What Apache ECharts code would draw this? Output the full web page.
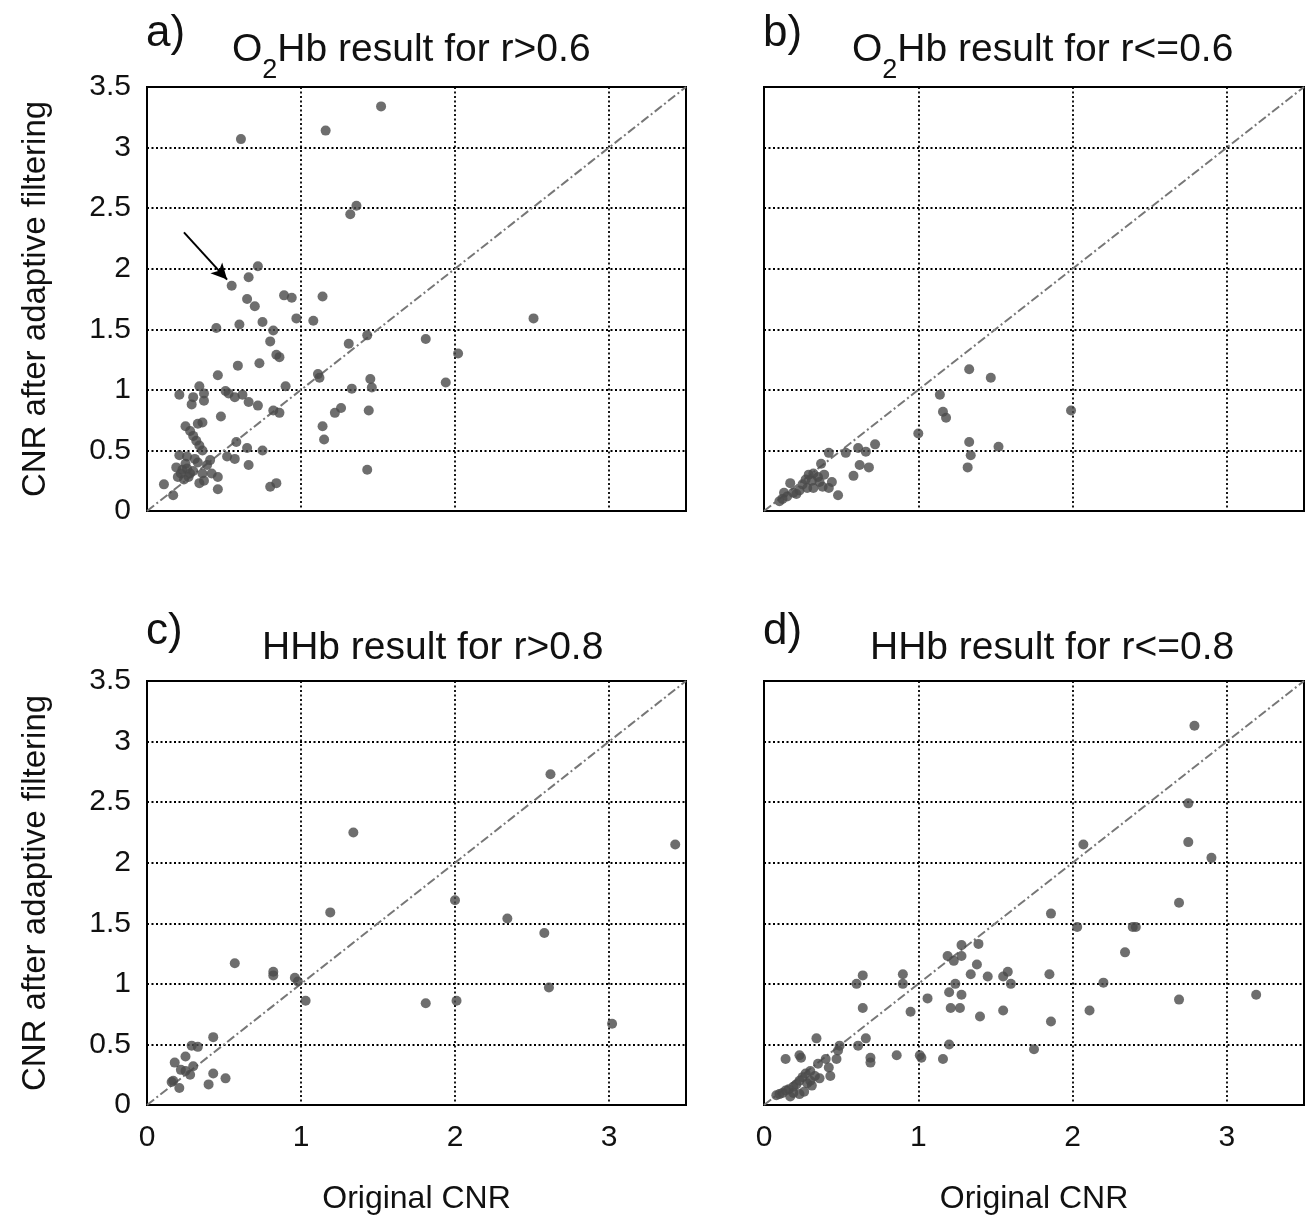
<!DOCTYPE html>
<html>
<head>
<meta charset="utf-8">
<script src="https://cdn.jsdelivr.net/npm/echarts@6/dist/echarts.min.js"></script>
<style>
  html, body { margin: 0; padding: 0; background: #fff; }
  #chart { width: 1315px; height: 1223px; }
</style>
</head>
<body>
<div id="chart"></div>
<script>
// axis ticks (both axes run 0..3.5)
const axisMax = 3.5;
const xInterval = 1;
const yInterval = 0.5;
const diagonal = [0, 3.5];

// a) O2Hb, r > 0.6
const aX = [1.52, 0.61, 1.16, 1.36, 1.32, 0.72, 0.66, 0.55, 0.65, 0.70, 0.89, 0.94, 1.14, 0.97, 1.08, 0.75, 0.60, 0.45, 0.82, 0.80,
  1.43, 1.31, 0.84, 0.86, 0.59, 0.73, 0.46, 1.11, 1.12, 0.34, 0.90, 1.45, 1.46, 1.33, 0.21, 0.30, 0.29, 0.37, 0.37, 0.51,
  0.53, 0.57, 0.62, 0.66, 0.72, 0.82, 0.86, 0.48, 1.22, 1.26, 1.44, 0.36, 0.33, 0.25, 0.28, 0.30, 0.32, 0.34, 0.36, 1.14,
  1.15, 0.58, 0.65, 0.75, 0.21, 0.26, 0.31, 0.41, 0.52, 0.57, 0.66, 1.43, 0.19, 0.23, 0.26, 0.28, 0.20, 0.24, 0.27, 0.30,
  0.22, 0.36, 0.37, 0.34, 0.46, 0.46, 0.11, 0.17, 0.80, 0.84, 0.42, 2.51, 1.81, 2.02, 1.94, 0.39, 0.33, 0.25];
const aY = [3.34, 3.07, 3.14, 2.52, 2.45, 2.02, 1.93, 1.86, 1.75, 1.69, 1.78, 1.76, 1.77, 1.59, 1.57, 1.56, 1.54, 1.51, 1.49, 1.40,
  1.45, 1.38, 1.29, 1.27, 1.20, 1.22, 1.12, 1.13, 1.10, 1.03, 1.03, 1.09, 1.02, 1.01, 0.96, 0.94, 0.88, 0.97, 0.91, 0.99,
  0.97, 0.94, 0.96, 0.90, 0.87, 0.83, 0.81, 0.78, 0.81, 0.85, 0.83, 0.73, 0.72, 0.70, 0.66, 0.62, 0.58, 0.54, 0.50, 0.70,
  0.59, 0.57, 0.52, 0.50, 0.46, 0.45, 0.43, 0.42, 0.45, 0.43, 0.38, 0.34, 0.36, 0.34, 0.35, 0.31, 0.28, 0.26, 0.28, 0.33,
  0.31, 0.31, 0.25, 0.23, 0.28, 0.18, 0.22, 0.13, 0.20, 0.23, 0.31, 1.59, 1.42, 1.30, 1.06, 0.38, 0.40, 0.39];
// arrow in panel a (tail, head)
const arrowA = [[0.24, 2.30], [0.52, 1.91]];

// b) O2Hb, r <= 0.6
const bX = [1.33, 1.47, 1.14, 1.16, 1.18, 1.00, 1.33, 1.52, 1.34, 1.32, 1.99, 0.72, 0.66, 0.61, 0.53, 0.42, 0.62, 0.68, 0.58, 0.37,
  0.29, 0.32, 0.35, 0.39, 0.44, 0.42, 0.48, 0.17, 0.13, 0.15, 0.19, 0.23, 0.28, 0.32, 0.36, 0.10, 0.12, 0.25, 0.27, 0.21,
  0.31, 0.38];
const bY = [1.17, 1.10, 0.96, 0.82, 0.77, 0.64, 0.57, 0.53, 0.46, 0.36, 0.83, 0.55, 0.49, 0.52, 0.48, 0.48, 0.38, 0.36, 0.29, 0.39,
  0.30, 0.31, 0.28, 0.30, 0.24, 0.19, 0.13, 0.23, 0.15, 0.12, 0.15, 0.17, 0.19, 0.19, 0.24, 0.08, 0.10, 0.22, 0.26, 0.14,
  0.25, 0.20];

// c) HHb, r > 0.8
const cX = [2.62, 1.34, 3.43, 2.00, 1.19, 2.34, 2.58, 0.57, 0.82, 0.82, 0.96, 0.98, 1.03, 2.61, 1.81, 2.01, 3.02, 0.43, 0.29, 0.33,
  0.25, 0.18, 0.22, 0.30, 0.28, 0.25, 0.43, 0.51, 0.40, 0.17, 0.16, 0.21];
const cY = [2.73, 2.25, 2.15, 1.69, 1.59, 1.54, 1.42, 1.17, 1.10, 1.07, 1.05, 1.02, 0.86, 0.97, 0.84, 0.86, 0.67, 0.56, 0.49, 0.48,
  0.40, 0.35, 0.29, 0.32, 0.25, 0.28, 0.26, 0.22, 0.17, 0.20, 0.19, 0.14];

// d) HHb, r <= 0.8
const dX = [2.79, 2.75, 2.75, 2.07, 2.90, 2.69, 1.86, 2.03, 2.39, 2.41, 2.34, 1.85, 2.20, 2.11, 1.86, 2.69, 3.19, 1.75, 0.64, 0.60,
  0.90, 0.90, 0.64, 0.95, 1.06, 1.19, 1.23, 1.28, 1.28, 1.39, 1.38, 1.34, 1.45, 1.58, 1.55, 1.60, 1.24, 1.20, 1.28, 1.21,
  1.27, 1.40, 1.55, 1.20, 1.02, 1.01, 1.16, 0.86, 0.69, 0.69, 0.66, 0.61, 0.49, 0.48, 0.47, 0.34, 0.23, 0.24, 0.14, 0.35,
  0.40, 0.42, 0.43, 0.36, 0.30, 0.27, 0.25, 0.23, 0.21, 0.19, 0.16, 0.14, 0.12, 0.10, 0.08, 0.31, 0.23, 0.19, 0.28, 0.33,
  0.26, 0.17, 0.30];
const dY = [3.13, 2.49, 2.17, 2.15, 2.04, 1.67, 1.58, 1.47, 1.47, 1.47, 1.26, 1.08, 1.01, 0.78, 0.69, 0.87, 0.91, 0.46, 1.07, 1.00,
  1.08, 1.00, 0.80, 0.77, 0.88, 1.23, 1.19, 1.32, 1.23, 1.33, 1.16, 1.08, 1.06, 1.10, 1.06, 1.00, 1.00, 0.93, 0.91, 0.80,
  0.80, 0.73, 0.78, 0.50, 0.39, 0.41, 0.38, 0.41, 0.39, 0.35, 0.55, 0.49, 0.49, 0.45, 0.38, 0.55, 0.41, 0.39, 0.38, 0.34,
  0.38, 0.31, 0.24, 0.22, 0.28, 0.26, 0.23, 0.20, 0.17, 0.15, 0.13, 0.12, 0.10, 0.09, 0.08, 0.16, 0.09, 0.10, 0.18, 0.24,
  0.11, 0.07, 0.20];

const panelLetters = ['a)', 'b)', 'c)', 'd)'];
const panelTitles = [
  '{n|O}{s|2}{n|Hb result for r>0.6}',
  '{n|O}{s|2}{n|Hb result for r<=0.6}',
  '{n|HHb result for r>0.8}',
  '{n|HHb result for r<=0.8}'
];
const yName = 'CNR after adaptive filtering';
const xName = 'Original CNR';

const FONT = 'Liberation Sans, Arial, sans-serif';
const dotColor = '#4a4a4a';

const grids = [
  {left: 147, top: 87, width: 539, height: 424},
  {left: 764, top: 87, width: 540, height: 424},
  {left: 147, top: 681, width: 539, height: 424},
  {left: 764, top: 681, width: 540, height: 424}
].map(g => Object.assign(g, {show: true, borderColor: '#000', borderWidth: 2, backgroundColor: '#fff'}));

const gridLine = {show: true, lineStyle: {color: '#000', width: 1.8, type: [2, 2.5]}};

const xAxes = [0, 1, 2, 3].map(i => ({
  type: 'value', gridIndex: i, min: 0, max: axisMax, interval: xInterval,
  axisLine: {show: false}, axisTick: {show: false},
  splitLine: gridLine,
  axisLabel: {show: i >= 2, showMaxLabel: false, color: '#111', fontSize: 30, fontFamily: FONT, margin: 18},
  name: i >= 2 ? xName : '', nameLocation: 'middle', nameGap: 78,
  nameTextStyle: {color: '#111', fontSize: 32, fontFamily: FONT}
}));

const yAxes = [0, 1, 2, 3].map(i => ({
  type: 'value', gridIndex: i, min: 0, max: axisMax, interval: yInterval,
  axisLine: {show: false}, axisTick: {show: false},
  splitLine: gridLine,
  axisLabel: {show: i % 2 === 0, color: '#111', fontSize: 30, fontFamily: FONT, margin: 16},
  name: i % 2 === 0 ? yName : '', nameLocation: 'middle', nameGap: 95, nameRotate: 90,
  nameTextStyle: {color: '#111', fontSize: 33, fontFamily: FONT}
}));

const zip = (xs, ys) => xs.map((x, k) => [x, ys[k]]);
const panels = [zip(aX, aY), zip(bX, bY), zip(cX, cY), zip(dX, dY)];

const series = [];
panels.forEach((pts, i) => {
  series.push({
    type: 'line', xAxisIndex: i, yAxisIndex: i,
    data: [[diagonal[0], diagonal[0]], [diagonal[1], diagonal[1]]],
    symbol: 'none', silent: true, z: 3,
    lineStyle: {color: '#777', width: 2, type: [9, 3, 2, 3]}
  });
  const s = {
    type: 'scatter', xAxisIndex: i, yAxisIndex: i, data: pts,
    symbolSize: 10, z: 4,
    itemStyle: {color: dotColor}
  };
  if (i === 0) {
    s.markLine = {
      silent: true, symbol: ['none', 'arrow'], symbolSize: [12, 16],
      label: {show: false},
      lineStyle: {color: '#000', width: 2, type: 'solid'},
      data: [[{coord: arrowA[0]}, {coord: arrowA[1]}]]
    };
  }
  series.push(s);
});

const titleLeft = [232, 852, 262, 870];
const titles = [];
panelLetters.forEach((t, i) => {
  const top = i < 2 ? 12 : 610;
  titles.push({
    text: t, left: i % 2 === 0 ? 146 : 763, top: top, padding: 0,
    textStyle: {color: '#111', fontSize: 44, fontWeight: 'normal', fontFamily: FONT}
  });
  titles.push({
    text: panelTitles[i], left: titleLeft[i], top: top + 19, padding: 0,
    textStyle: {
      fontWeight: 'normal',
      rich: {
        n: {color: '#111', fontSize: 39, fontWeight: 'normal', fontFamily: FONT},
        s: {color: '#111', fontSize: 27, fontWeight: 'normal', fontFamily: FONT, verticalAlign: 'bottom', padding: [0, 0, -14, 0]}
      }
    }
  });
});

const chart = echarts.init(document.getElementById('chart'));
chart.setOption({
  animation: false,
  backgroundColor: '#fff',
  title: titles,
  grid: grids,
  xAxis: xAxes,
  yAxis: yAxes,
  series: series
});
</script>
</body>
</html>
